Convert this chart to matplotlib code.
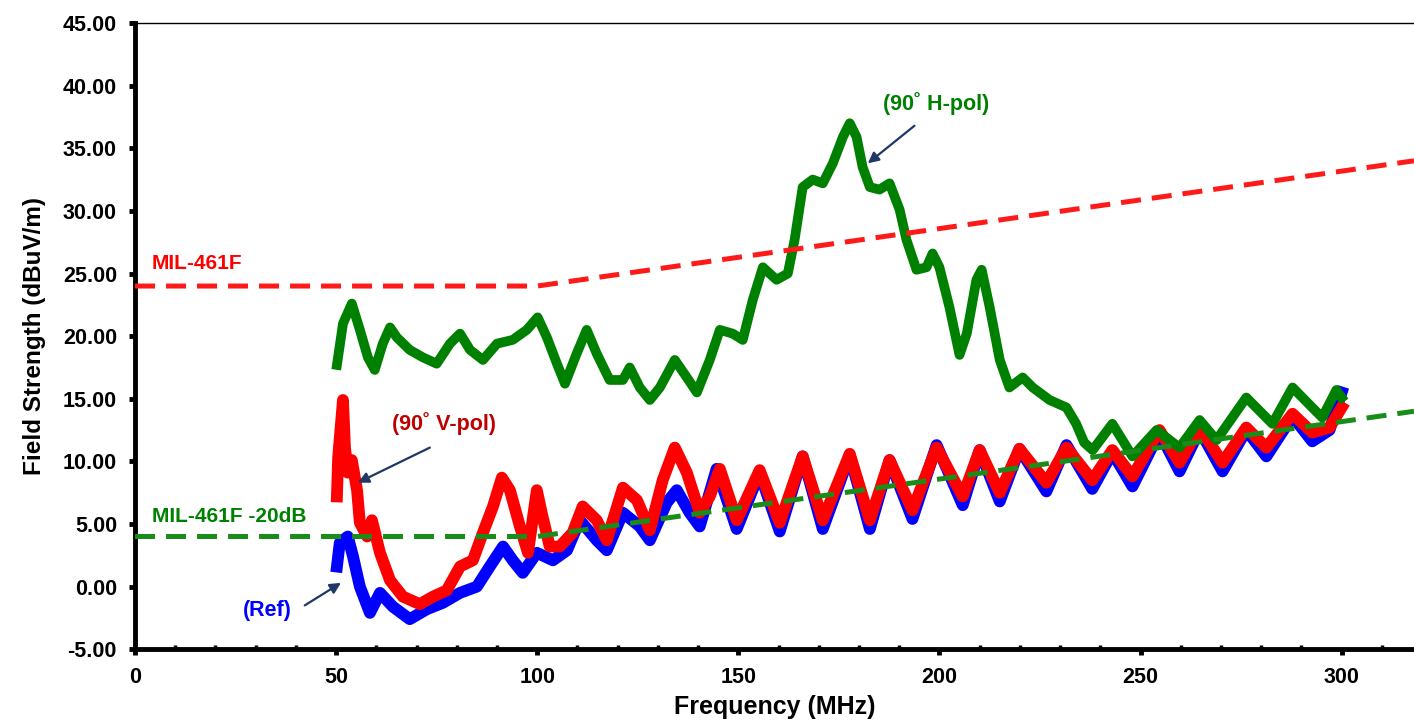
import numpy as np
import matplotlib
matplotlib.use("Agg")
from matplotlib import pyplot as plt
from matplotlib.ticker import MultipleLocator, FormatStrFormatter

plt.rcParams['font.family'] = ['Liberation Sans', 'DejaVu Sans']
plt.rcParams['font.weight'] = 'bold'
plt.rcParams['axes.unicode_minus'] = False

# MIL-STD-461F RE102 limit and the -20 dB design margin
limit_f = [0, 100, 318]
limit_v = [24.0, 24.0, 34.0]
margin_v = [4.0, 4.0, 14.0]

# 90 deg H-pol scan (MHz, dBuV/m)
hpol_f = [50.2, 51.7, 53.9, 55.9, 57.9, 59.6, 61.6, 63.4, 65.1, 68.3, 71.6, 75, 78.3, 80.8,
          83.3, 86.5, 90, 93.9, 97.4, 100.1, 102.4, 104.9, 106.9, 109.8, 112.3, 114.8, 118,
          121.3, 123, 125.5, 128, 130.5, 134.2, 137.2, 139.7, 142.9, 145.4, 148.6, 151.1,
          153.6, 156.1, 159.5, 162.3, 164, 166, 168.5, 171, 173.5, 176, 177.7, 179.4, 180.9,
          182.7, 185.1, 187.6, 190.1, 191.8, 194.3, 196.8, 198.3, 200, 202.5, 205, 206.8,
          209.2, 210.5, 212.5, 215, 217.4, 220.7, 223.2, 227.4, 231.6, 234, 236, 238.1, 243,
          248, 254, 259.7, 264.7, 268.9, 276.3, 282.8, 287.8, 292.7, 295.2, 298.7, 300]
hpol_v = [17.7, 21.0, 22.6, 20.5, 18.3, 17.3, 19.4, 20.7, 19.9, 18.9, 18.3, 17.8, 19.4, 20.2,
          18.9, 18.1, 19.4, 19.7, 20.5, 21.5, 19.9, 17.8, 16.2, 18.6, 20.5, 18.6, 16.5,
          16.5, 17.5, 15.9, 14.9, 15.9, 18.1, 16.7, 15.5, 18.1, 20.5, 20.2, 19.7,
          22.9, 25.5, 24.5, 25.0, 27.7, 31.9, 32.5, 32.2, 33.8, 35.9, 37.0, 35.9, 33.5,
          31.9, 31.7, 32.2, 30.1, 27.7, 25.3, 25.5, 26.6, 25.5, 22.3, 18.5, 20.2,
          24.5, 25.3, 22.3, 18.1, 15.9, 16.7, 15.9, 14.9, 14.3, 13.0, 11.5, 10.9, 13.0,
          10.4, 12.5, 11.1, 13.3, 11.7, 15.1, 13.0, 15.9, 14.3, 13.5, 15.7, 15.1]

# 90 deg V-pol scan
vpol_f = [50.2, 50.5, 51.7, 52.2, 52.9, 53.9, 55.2, 55.9, 57.7, 58.9, 60.9, 63.4, 66.6, 70.8,
          74.1, 77.5, 80.8, 84, 86.5, 89, 91.2, 93.2, 95.7, 97.7, 99.9, 101.1, 103.1, 105.6,
          108.8, 111.3, 114.8, 117.3, 121.3, 124.8, 128, 131.2, 134.2, 137.2, 140.4, 142.9,
          145.4, 149.6, 155.3, 160.3, 166, 171, 177.7, 182.7, 187.6, 193.3, 199.3, 205.8,
          210, 215, 219.9, 226.6, 231.6, 238, 243, 248, 254.7, 259.7, 264.7, 270.4, 276.3,
          281.3, 287.8, 292.7, 297, 300]
vpol_v = [7.2, 10.3, 14.9, 11.1, 9.1, 10.1, 7.7, 5.1, 4.0, 5.3, 2.7, 0.5, -0.8, -1.4,
          -0.8, -0.3, 1.6, 2.1, 4.3, 6.4, 8.7, 7.7, 4.8, 2.7, 7.7, 5.9, 3.2, 3.2,
          4.3, 6.4, 5.3, 3.7, 7.9, 6.9, 4.5, 8.5, 11.1, 9.1, 5.9, 7.2,
          9.4, 5.3, 9.3, 5.1, 10.4, 5.3, 10.6, 5.3, 10.1, 6.1, 11.1, 7.2,
          10.9, 7.5, 11.0, 8.3, 11.1, 8.5, 10.9, 8.8, 12.5, 9.9, 12.7, 9.9, 12.7,
          11.1, 13.8, 12.3, 12.7, 14.3]

# ambient reference scan
ref_f = [50.2, 50.9, 52.9, 54.2, 55.9, 58.4, 60.9, 64.1, 68.3, 72.6, 76.5, 80.8, 85, 88.2,
         91.5, 93.9, 96.4, 99.9, 103.9, 107.4, 110.6, 114.8, 117.3, 121.3, 125.5, 128, 132.2,
         134.7, 137.9, 140.4, 144.6, 149.6, 155.3, 160.3, 166, 171, 177.7, 182.7, 187.6,
         193.3, 199.3, 205.8, 210, 215, 219.9, 226.6, 231.6, 238, 243, 248, 254.7, 259.7,
         264.7, 270.4, 276.3, 281.3, 287.8, 292.7, 297, 300]
ref_v = [1.6, 3.5, 4.0, 2.4, 0.0, -2.1, -0.5, -1.6, -2.6, -1.8, -1.3, -0.5, 0.0, 1.6,
         3.2, 2.1, 1.1, 2.7, 2.1, 2.9, 5.3, 3.7, 2.9, 5.9, 4.8, 3.7, 6.7,
         7.7, 5.9, 4.8, 9.4, 4.6, 9.1, 4.4, 10.4, 4.6, 10.5, 4.6, 10.1,
         5.4, 11.3, 6.5, 10.9, 6.8, 11.0, 7.6, 11.3, 7.8, 10.7, 8.0, 12.3, 9.2,
         12.5, 9.2, 12.5, 10.4, 13.6, 11.6, 12.5, 15.5]

fig = plt.figure(figsize=(14.14, 7.2), dpi=100)
ax = fig.add_axes([0.0955, 0.0983, 0.9045, 0.8697])

ax.plot(ref_f, ref_v, color='#0000FF', lw=8.5, solid_joinstyle='round', zorder=2)
ax.plot(vpol_f, vpol_v, color='#FF0000', lw=8.5, solid_joinstyle='round', zorder=3)
ax.plot(hpol_f, hpol_v, color='#008000', lw=7, solid_joinstyle='round', zorder=4)

ax.plot(limit_f, limit_v, color='#FF1A1A', lw=3.6, dashes=(4, 2.2), zorder=5)
ax.plot(limit_f, margin_v, color='#1A8C1A', lw=3.6, dashes=(4, 2.2), zorder=5)

ax.text(4.2, 25.8, 'MIL-461F', color='#FF0000', fontsize=15, fontweight='bold', va='center')
ax.text(4.2, 5.6, 'MIL-461F -20dB', color='#008000', fontsize=15, fontweight='bold', va='center')

arrow = dict(arrowstyle='-|>', color='#1F3864', lw=1.6, mutation_scale=16, shrinkA=0, shrinkB=0)
ax.text(185.9, 38.6, '(90˚ H-pol)', color='#008000', fontsize=15.5, fontweight='bold', va='center')
ax.annotate('', xy=(182.2, 33.8), xytext=(193.8, 36.8), arrowprops=arrow, zorder=6)
ax.text(63.9, 13.0, '(90˚ V-pol)', color='#C00000', fontsize=15.5, fontweight='bold', va='center')
ax.annotate('', xy=(55.4, 8.3), xytext=(73.3, 11.1), arrowprops=arrow, zorder=6)
ax.text(26.8, -1.9, '(Ref)', color='#0000FF', fontsize=15.5, fontweight='bold', va='center')
ax.annotate('', xy=(51.2, 0.3), xytext=(42.2, -1.5), arrowprops=arrow, zorder=6)

ax.set_xlim(0, 318)
ax.set_ylim(-5, 45)
ax.xaxis.set_major_locator(MultipleLocator(50))
ax.xaxis.set_minor_locator(MultipleLocator(10))
ax.yaxis.set_major_locator(MultipleLocator(5))
ax.yaxis.set_major_formatter(FormatStrFormatter('%.2f'))

ax.spines['right'].set_visible(False)
ax.spines['left'].set_linewidth(3.5)
ax.spines['bottom'].set_linewidth(3.5)
ax.spines['top'].set_linewidth(1.0)
ax.tick_params(axis='both', which='major', direction='out', length=4, width=3.5, labelsize=15.5)
ax.tick_params(axis='x', which='major', pad=9)
ax.tick_params(axis='y', which='major', pad=9)
ax.tick_params(axis='x', which='minor', direction='in', length=3, width=2.5)

ax.set_xlabel('Frequency (MHz)', fontsize=18, fontweight='bold', labelpad=5)
ax.set_ylabel('Field Strength (dBuV/m)', fontsize=17.5, fontweight='bold', labelpad=12)

fig.savefig('out.png', dpi=100)
